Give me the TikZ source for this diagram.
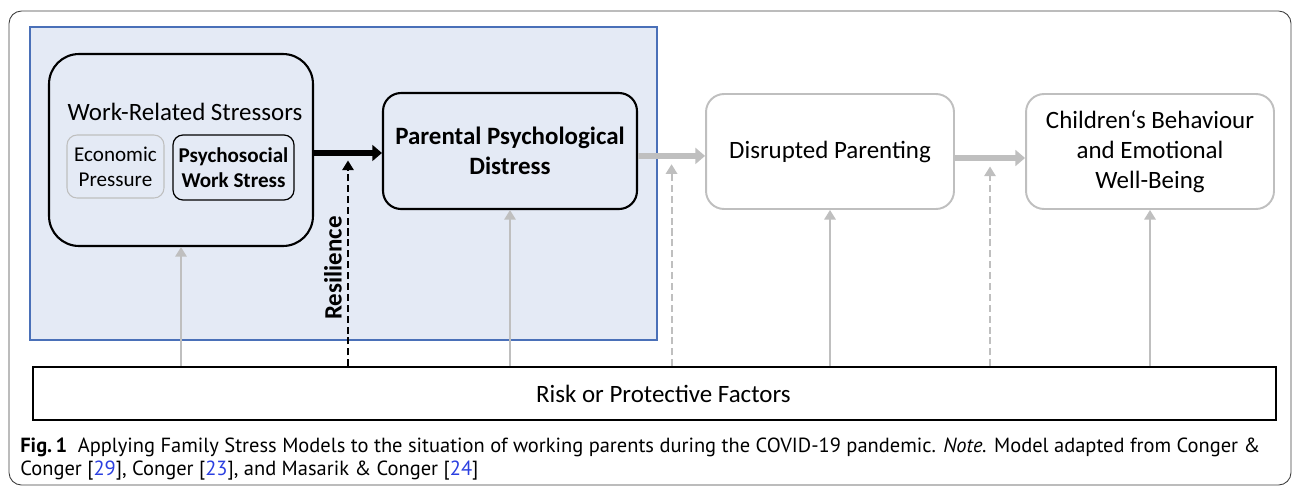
\documentclass[tikz,border=0pt]{standalone}
\usepackage{fontspec}
\setmainfont{Carlito}
\newfontfamily\capfont{PT Sans}
\usetikzlibrary{calc,arrows.meta}
\definecolor{lightgrey}{HTML}{BFBFBF}
\definecolor{paleblue}{HTML}{E4EAF5}
\definecolor{frameblue}{HTML}{4A70B8}
\definecolor{linkblue}{HTML}{2B3FE0}
\definecolor{framegrey}{HTML}{404040}

\begin{document}
\begin{tikzpicture}[x=0.02cm,y=-0.02cm,
  every node/.style={font=\fontsize{14.2}{17}\selectfont,align=center,inner sep=0pt},
  blackbox/.style={draw,line width=1.2pt,rounded corners=0.36cm},
  greybox/.style={draw=lightgrey,line width=1.1pt,rounded corners=0.36cm},
  fatarrow/.style={line width=3.4pt,-{Triangle[width=9pt,length=5.5pt]}},
  thinarrow/.style={line width=1.1pt,-{Triangle[width=6.5pt,length=5.5pt]}},
  dasharrow/.style={thinarrow,dash pattern=on 4pt off 2.2pt}]
  \useasboundingbox (0,0) rectangle (1293,487);
  %outer frame and shaded part
  \draw[framegrey,line width=0.5pt,rounded corners=0.25cm] (9,11) rectangle (1291,485);
  \draw[frameblue,fill=paleblue,line width=0.6pt] (30,27) rectangle (657,340);

  \node[blackbox,rounded corners=0.6cm,minimum width=5.28cm,minimum height=3.84cm] (wrs) at (181,150) {};
  \node (wrstitle) at (185,112) {Work-Related Stressors};
  \node[draw=lightgrey,line width=0.6pt,rounded corners=0.2cm,minimum width=1.94cm,minimum height=1.26cm,
        font=\fontsize{12}{14.2}\selectfont] (ecp) at (115.5,166.5) {Economic\\Pressure};
  \node[draw,line width=0.7pt,rounded corners=0.2cm,minimum width=2.42cm,minimum height=1.3cm,
        font=\fontsize{12}{14.2}\selectfont\bfseries] (pws) at (233.5,167.5) {Psychosocial\\Work Stress};

  \node[blackbox,minimum width=5.08cm,minimum height=2.32cm,font=\fontsize{14.2}{17}\selectfont\bfseries] (ppd) at (510,151) {Parental Psychological\\Distress};
  \node[greybox,minimum width=4.96cm,minimum height=2.3cm] (dp) at (830,151.5) {Disrupted Parenting};
  \node[greybox,minimum width=4.96cm,minimum height=2.3cm] (cbe) at (1150,151.5) {Children‘s Behaviour\\and Emotional\\Well-Being};

  \node[draw,line width=0.9pt,minimum width=24.86cm,minimum height=1.06cm] (rpf) at (654.5,393.5) {\hspace{10pt}Risk or Protective Factors};

  % main path
  \draw[fatarrow] ([yshift=-1.7pt]wrs.east) -- ([yshift=-1.7pt]wrs.east -| ppd.west);
  \draw[fatarrow,lightgrey] ([yshift=-2.8pt]ppd.east) -- ([yshift=-2.8pt]ppd.east -| dp.west);
  \draw[fatarrow,lightgrey] ([yshift=-3.7pt]dp.east) -- ([yshift=-3.7pt]dp.east -| cbe.west);

  \coordinate (m1) at ($(wrs.east)!0.5!(ppd.west)+(0,10)$);
  \coordinate (m2) at ($(ppd.east)!0.5!(dp.west)+(0,13)$);
  \coordinate (m3) at ($(dp.east)!0.5!(cbe.west)+(0,15)$);

  % factors
  \draw[thinarrow,lightgrey] (wrs.south |- rpf.north) -- (wrs.south);
  \draw[dasharrow] (m1 |- rpf.north) -- (m1);
  \draw[thinarrow,lightgrey] (ppd.south |- rpf.north) -- (ppd.south);
  \draw[dasharrow,lightgrey] (m2 |- rpf.north) -- (m2);
  \draw[thinarrow,lightgrey] (dp.south |- rpf.north) -- (dp.south);
  \draw[dasharrow,lightgrey] (m3 |- rpf.north) -- (m3);
  \draw[thinarrow,lightgrey] (cbe.south |- rpf.north) -- (cbe.south);

  \node[rotate=90,font=\fontsize{14.2}{17}\selectfont\bfseries] (res) at (333,268) {Resilience};

  \node[anchor=north west,align=left,font=\capfont\fontsize{11.65}{12.8}\selectfont] (cap) at (20,438)
    {\textbf{Fig.\,1}\hspace{6pt}Applying Family Stress Models to the situation of working parents during the COVID-19 pandemic. \textit{Note.} Model adapted from Conger \&\\
     Conger [\textcolor{linkblue}{29}], Conger [\textcolor{linkblue}{23}], and Masarik \& Conger [\textcolor{linkblue}{24}]};
\end{tikzpicture}
\end{document}
